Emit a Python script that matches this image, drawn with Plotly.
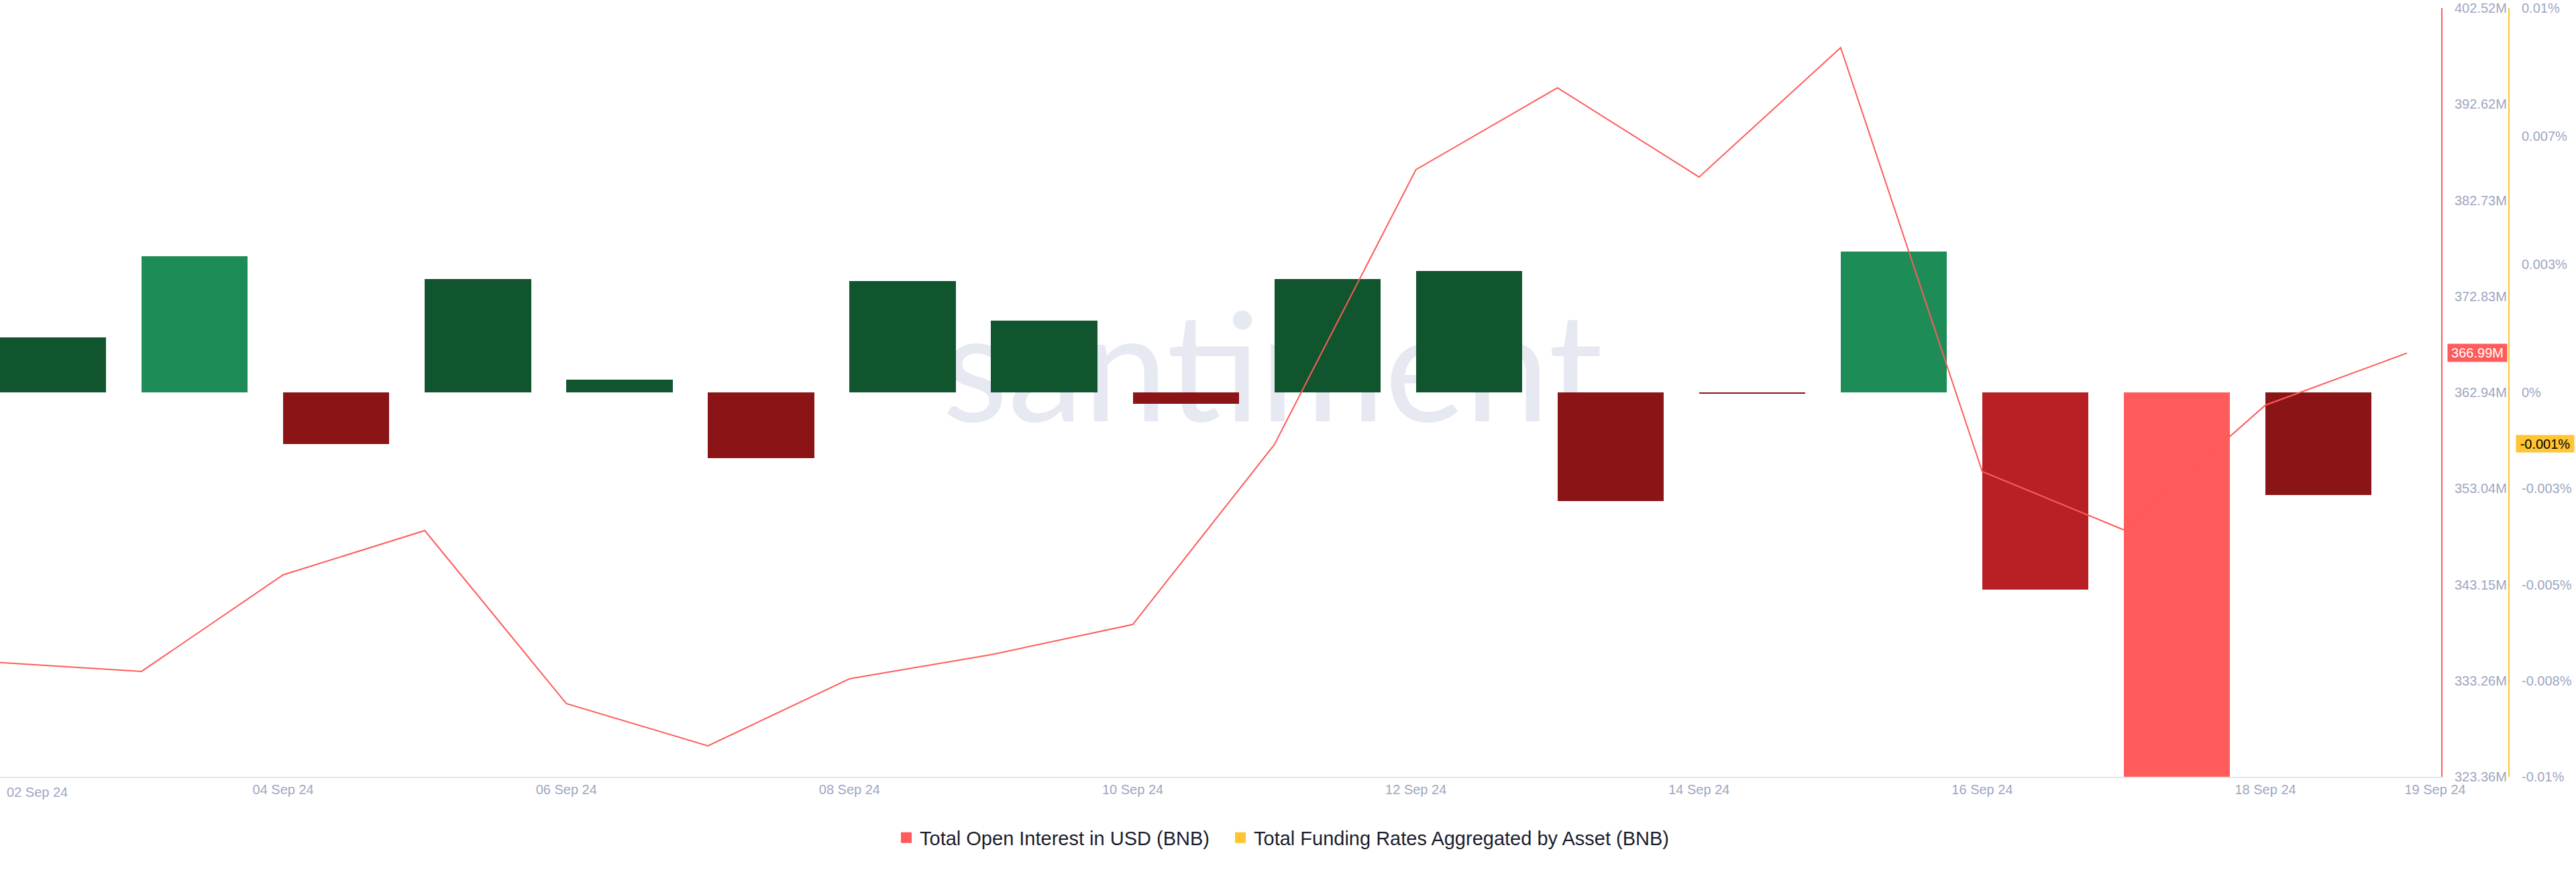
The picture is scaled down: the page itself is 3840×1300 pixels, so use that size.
import plotly.graph_objects as go

# ---------------- data ----------------
oi_dates = ["2024-09-02", "2024-09-03", "2024-09-04", "2024-09-05", "2024-09-06",
            "2024-09-07", "2024-09-08", "2024-09-09", "2024-09-10", "2024-09-11",
            "2024-09-12", "2024-09-13", "2024-09-14", "2024-09-15", "2024-09-16",
            "2024-09-17", "2024-09-18", "2024-09-19"]
oi_values = [335.12, 334.21, 344.15, 348.71, 330.89, 326.54, 333.45, 335.93, 339.04,
             357.56, 385.88, 394.31, 385.12, 398.45, 354.79, 348.78, 361.63, 366.99]  # millions USD

funding_dates = oi_dates[:-1]
funding_values = [0.00143, 0.00354, -0.00134, 0.00295, 0.00033, -0.00171, 0.00290,
                  0.00187, -0.00030, 0.00295, 0.00316, -0.00283, -0.00003, 0.00366,
                  -0.00513, -0.01040, -0.00267]  # percent
funding_latest = -0.00134
oi_latest = oi_values[-1]

oi_ticks = [323.36, 333.26, 343.15, 353.04, 362.94, 372.83, 382.73, 392.62, 402.52]
fr_tickvals = [0.01, 0.00667, 0.00333, 0.0, -0.0025, -0.005, -0.0075, -0.01]
fr_ticktext = ["0.01%", "0.007%", "0.003%", "0%", "-0.003%", "-0.005%", "-0.008%", "-0.01%"]

x_tickvals = ["2024-09-04", "2024-09-06", "2024-09-08", "2024-09-10", "2024-09-12",
              "2024-09-14", "2024-09-16", "2024-09-18", "2024-09-19 04:46"]
x_ticktext = ["04 Sep 24", "06 Sep 24", "08 Sep 24", "10 Sep 24", "12 Sep 24",
              "14 Sep 24", "16 Sep 24", "18 Sep 24", "19 Sep 24"]

series_names = ["Total Open Interest in USD (BNB)", "Total Funding Rates Aggregated by Asset (BNB)"]

# ---------------- style ----------------
RED = "#FF5B5B"
YELLOW = "#FFC532"
TICK = "#9DA7C1"
DAY_MS = 86400000
W, H = 3840, 1300
ML, MR, MT, MB = 0, 100, 12, 142
PAPER_W = W - ML - MR
PLOT_RIGHT = 3639
XEND = PLOT_RIGHT / PAPER_W
PLOT_H = H - MT - MB


def bar_color(v):
    if v >= 0.0035:
        return "#1E8C57"
    if v >= 0:
        return "#11552E"
    if v > -0.003:
        return "#8B1416"
    if v > -0.008:
        return "#B72024"
    return RED


fig = go.Figure()
fig.add_trace(go.Bar(
    x=funding_dates, y=funding_values, xaxis="x", yaxis="y",
    width=0.75 * DAY_MS, offset=0,
    marker=dict(color=[bar_color(v) for v in funding_values], line=dict(width=0)),
    showlegend=False, hoverinfo="skip"))
fig.add_trace(go.Scatter(
    x=oi_dates, y=oi_values, xaxis="x", yaxis="y2", mode="lines",
    line=dict(color=RED, width=2), showlegend=False, hoverinfo="skip"))
# legend entries (two legends so the spacing between the items can match)
for name, col, ax, lg in [(series_names[0], RED, "y2", "legend"),
                          (series_names[1], YELLOW, "y", "legend2")]:
    fig.add_trace(go.Scatter(x=[None], y=[None], yaxis=ax, mode="markers", name=name,
                             legend=lg, marker=dict(symbol="square", size=18, color=col)))

tickfont = dict(family="Liberation Sans, Arial, sans-serif", size=20, color=TICK)
legfont = dict(family="Liberation Sans, Arial, sans-serif", size=29, color="#1A1D2E")
leg_y = -(1249 - (H - MB)) / PLOT_H

fig.update_layout(
    width=W, height=H,
    margin=dict(l=ML, r=MR, t=MT, b=MB, pad=0),
    paper_bgcolor="white", plot_bgcolor="white",
    bargap=0,
    xaxis=dict(domain=[0, XEND], type="date",
               range=["2024-09-02 00:00", "2024-09-19 05:47"],
               showgrid=False, zeroline=False, showline=True, linecolor="#E3E6EE", linewidth=2,
               tickmode="array", tickvals=x_tickvals, ticktext=x_ticktext,
               ticks="", tickfont=tickfont, automargin=False, fixedrange=True),
    yaxis=dict(anchor="free", position=1, side="right",
               range=[-0.01, 0.01], showgrid=False, zeroline=False,
               showline=True, linecolor=YELLOW, linewidth=2,
               tickmode="array", tickvals=fr_tickvals, ticktext=fr_ticktext,
               ticks="", ticklabelstandoff=14, tickfont=tickfont, automargin=False),
    yaxis2=dict(overlaying="y", anchor="x", side="right",
                range=[oi_ticks[0], oi_ticks[-1]], showgrid=False, zeroline=False,
                showline=True, linecolor=RED, linewidth=2,
                tickmode="array", tickvals=oi_ticks, ticktext=[f"{t:.2f}M" for t in oi_ticks],
                ticks="", ticklabelstandoff=14, tickfont=tickfont, automargin=False),
    legend=dict(orientation="h", x=(1345 - 14) / PAPER_W, xanchor="left",
                y=leg_y, yanchor="middle", font=legfont,
                bgcolor="rgba(0,0,0,0)", itemclick=False),
    legend2=dict(orientation="h", x=(1843 - 14) / PAPER_W, xanchor="left",
                 y=leg_y, yanchor="middle", font=legfont,
                 bgcolor="rgba(0,0,0,0)", itemclick=False),
    showlegend=True,
    shapes=[dict(type="rect", xref="paper", yref="paper", layer="below",
                 x0=1438 / PAPER_W, x1=2409 / PAPER_W,
                 y0=(H - MB - 672) / PLOT_H, y1=(H - MB - 402) / PLOT_H,
                 line=dict(width=0), fillcolor="rgba(0,0,0,0)",
                 label=dict(text="santiment.", textposition="middle center",
                            font=dict(family="Lato, sans-serif",
                                      size=226, color="#E7E9F2")))],
    annotations=[
        dict(xref="paper", yref="y2", x=XEND + 9 / PAPER_W, y=oi_latest,
             xanchor="left", yanchor="middle", text=f"{oi_latest:.2f}M", showarrow=False,
             bgcolor=RED, width=88, height=26, borderpad=0,
             font=dict(family="Liberation Sans, Arial, sans-serif", size=20, color="white")),
        dict(xref="paper", yref="y", x=1 + 10 / PAPER_W, y=funding_latest,
             xanchor="left", yanchor="middle", text=f"{funding_latest:.3f}%", showarrow=False,
             bgcolor=YELLOW, width=86, height=25, borderpad=0,
             font=dict(family="Liberation Sans, Arial, sans-serif", size=20, color="black")),
        dict(xref="x", yref="paper", x=oi_dates[0], y=0, xanchor="left", yanchor="top",
             xshift=8, yshift=-10, text="02 Sep 24", showarrow=False,
             font=tickfont),
    ],
)

fig.write_html("out.html", config={"displayModeBar": False},
               post_script="document.body.style.margin='0';")
